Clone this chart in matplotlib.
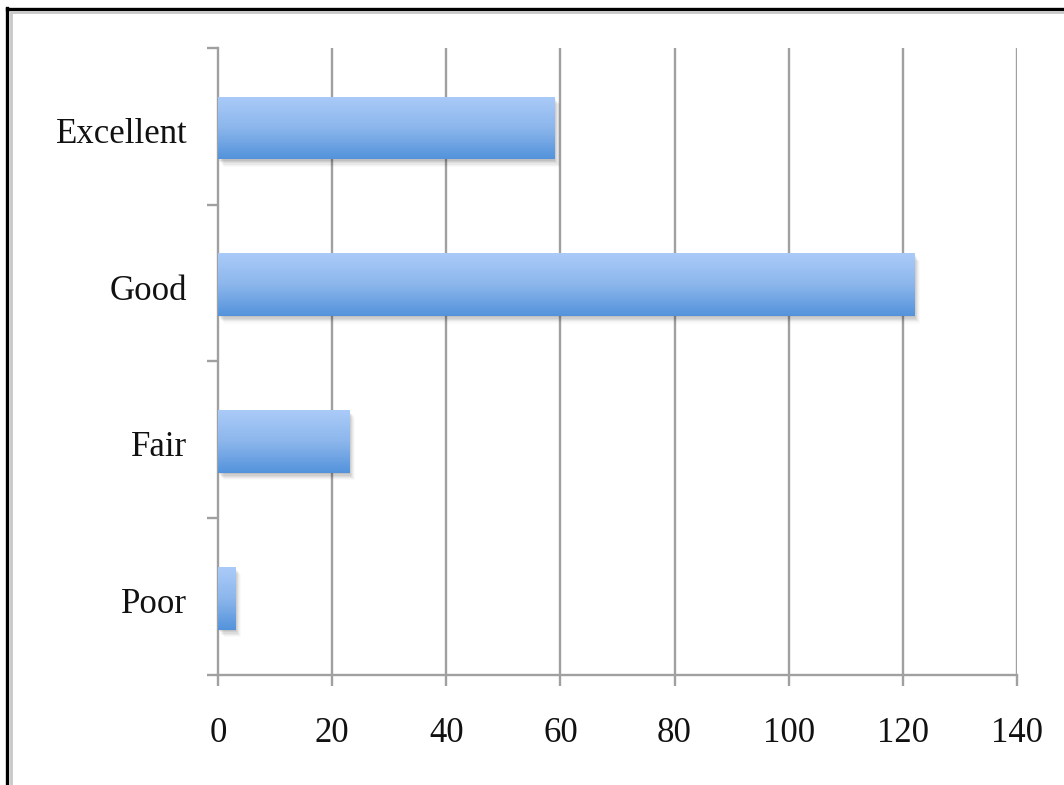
import numpy as np
import matplotlib
matplotlib.use("Agg")
import matplotlib.pyplot as plt
import matplotlib.patheffects as pe
import matplotlib.transforms as mtransforms
from matplotlib.lines import Line2D
from matplotlib.colors import LinearSegmentedColormap

# Ratings, listed bottom to top as drawn
categories = ["Poor", "Fair", "Good", "Excellent"]
counts = [3, 23, 122, 59]
x_ticks = [0, 20, 40, 60, 80, 100, 120, 140]

plt.rcParams["font.family"] = ["Liberation Serif", "DejaVu Serif"]

fig = plt.figure(figsize=(10.64, 7.85), dpi=100)
ax = fig.add_axes([0.2049, 0.1401, 0.7509, 0.7988])

axis_grey = "#a0a0a0"
bar_h = 0.4
pos = np.arange(len(categories))

grad = LinearSegmentedColormap.from_list("barfill", ["#aacbf8", "#8cb6ec", "#5493db"])
g = np.linspace(0, 1, 64).reshape(-1, 1)

shadow = [pe.SimplePatchShadow(offset=(dx, dy), shadow_rgbFace="#000000", alpha=a)
          for dx, dy, a in [(0.5, -1.0, 0.07), (1.2, -2.0, 0.06), (2.0, -3.0, 0.05),
                            (2.8, -3.8, 0.04), (3.4, -4.6, 0.03), (4.0, -5.4, 0.02)]]

# Bars sit a hair below each category centre
bar_pos = pos - 0.01
bars = ax.barh(bar_pos, counts, height=bar_h, facecolor="none", edgecolor="none", zorder=3)
for rect, p, v in zip(bars, bar_pos, counts):
    rect.set_path_effects(shadow + [pe.Normal()])
    im = ax.imshow(g, cmap=grad, aspect="auto", origin="upper",
                   extent=(0, v, p - bar_h / 2, p + bar_h / 2), zorder=4,
                   interpolation="bilinear")
    im.set_clip_path(rect)

ax.set_xlim(0, 140)
ax.set_ylim(-0.5, len(categories) - 0.5)

# Gridlines at every x tick except the axis itself
for xv in x_ticks[1:]:
    ax.axvline(xv, color=axis_grey, lw=1.7, zorder=1)

for s in ["top", "right"]:
    ax.spines[s].set_visible(False)
for s in ["left", "bottom"]:
    ax.spines[s].set_color(axis_grey)
    ax.spines[s].set_linewidth(1.7)
    ax.spines[s].set_zorder(2)

ax.set_xticks(x_ticks)
ax.set_xticklabels([str(t) for t in x_ticks], fontsize=25)
ax.tick_params(axis="x", length=8, width=1.7, color=axis_grey, pad=22, labelcolor="#111111")

# Major ticks mark category boundaries; labels sit on minor ticks at the centres
ax.set_yticks(np.arange(-0.5, len(categories), 1.0))
ax.set_yticklabels([])
ax.set_yticks(pos, minor=True)
ax.set_yticklabels(categories, minor=True, fontsize=25)
ax.tick_params(axis="y", which="major", length=8, width=1.7, color=axis_grey)
ax.tick_params(axis="y", which="minor", length=0, pad=22, labelcolor="#111111")
shift = mtransforms.ScaledTranslation(0, -4 / 100, fig.dpi_scale_trans)
for lab in ax.get_yticklabels(minor=True):
    lab.set_transform(lab.get_transform() + shift)

# Frame around the chart area
W, H = 1064, 785
fig.add_artist(Line2D([7 / W, 7 / W], [0, 1 - 8 / H], transform=fig.transFigure,
                      color="#000000", lw=2.4))
fig.add_artist(Line2D([7 / W, 1], [1 - 9 / H, 1 - 9 / H], transform=fig.transFigure,
                      color="#000000", lw=2.4))
fig.add_artist(Line2D([11 / W, 11 / W], [0, 1 - 12 / H], transform=fig.transFigure,
                      color="#c8c8c8", lw=2.0))
fig.add_artist(Line2D([11 / W, 1], [1 - 12 / H, 1 - 12 / H], transform=fig.transFigure,
                      color="#c8c8c8", lw=2.0))

fig.savefig("out.png", dpi=100)
